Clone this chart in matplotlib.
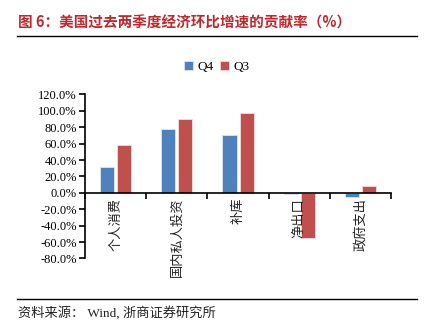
import matplotlib
matplotlib.use("Agg")
import matplotlib.pyplot as plt
import numpy as np
from matplotlib.lines import Line2D
from matplotlib.ticker import FuncFormatter

# data
categories = ["个人消费", "国内私人投资", "补库", "净出口", "政府支出"]
q4 = [31.0, 77.5, 71.0, -1.0, -5.5]
q3 = [59.0, 89.5, 97.0, -54.5, 8.0]
series_names = ["Q4", "Q3"]
yticks = [-80, -60, -40, -20, 0, 20, 40, 60, 80, 100, 120]

BLUE = "#4F81BD"
RED = "#C0504D"
TITLE_RED = "#C0282D"
CJK = ["Noto Sans CJK SC", "DejaVu Sans"]
SERIF = ["Liberation Serif", "Noto Sans CJK SC"]

fig = plt.figure(figsize=(4.36, 3.32), dpi=100)
ax = fig.add_axes([0.195, 0.2214, 0.702, 0.494])

x = np.arange(len(categories))
w = 0.23
ax.bar(x - 0.14, q4, width=w, color=BLUE, edgecolor="#DCE6F2", linewidth=0.6, label=series_names[0])
ax.bar(x + 0.14, q3, width=w, color=RED, edgecolor="#F2DCDB", linewidth=0.6, label=series_names[1])

ax.set_xlim(-0.5, len(categories) - 0.5)
ax.set_ylim(-80, 120)
ax.set_yticks(yticks)
ax.yaxis.set_major_formatter(FuncFormatter(lambda v, p: f"{v:.1f}%"))

for s in ["top", "right"]:
    ax.spines[s].set_visible(False)
ax.spines["bottom"].set_position(("data", 0))
ax.spines["left"].set_linewidth(1.2)
ax.spines["bottom"].set_linewidth(1.2)

# category boundaries carry the tick marks, labels sit at centres
ax.set_xticks(np.arange(len(categories) + 1) - 0.5)
ax.set_xticklabels([])
ax.tick_params(axis="x", direction="out", length=4, width=1.2)
ax.tick_params(axis="y", direction="out", length=4, width=1.2, pad=2)
for lab in ax.get_yticklabels():
    lab.set_fontfamily(SERIF)
    lab.set_fontsize(9)

for i, c in enumerate(categories):
    ax.text(i, -6, c, rotation=90, ha="center", va="top", fontsize=9.5,
            family=CJK, color="#222222")

leg = ax.legend(loc="center", bbox_to_anchor=(0.497, 1 - 67 / 332),
                bbox_transform=fig.transFigure, ncol=2, frameon=False,
                handlelength=0.7, handleheight=0.7, handletextpad=0.3,
                columnspacing=0.5, prop={"family": SERIF, "size": 9.5})

# header and footer
fig.text(18 / 436, 1 - 23 / 332, "图 6：美国过去两季度经济环比增速的贡献率（%）",
         color=TITLE_RED, fontsize=10.5, fontweight="bold", family=CJK,
         ha="left", va="center")
fig.add_artist(Line2D([17 / 436, 417 / 436], [1 - 36 / 332, 1 - 36 / 332],
                      transform=fig.transFigure, color="black", linewidth=1.0))
fig.add_artist(Line2D([17 / 436, 417 / 436], [1 - 299 / 332, 1 - 299 / 332],
                      transform=fig.transFigure, color="black", linewidth=1.0))
fig.text(18 / 436, 1 - 313 / 332, "资料来源： Wind, 浙商证券研究所",
         fontsize=9.5, family=SERIF, ha="left", va="center", color="#222222")

fig.savefig("out.png", dpi=100)
